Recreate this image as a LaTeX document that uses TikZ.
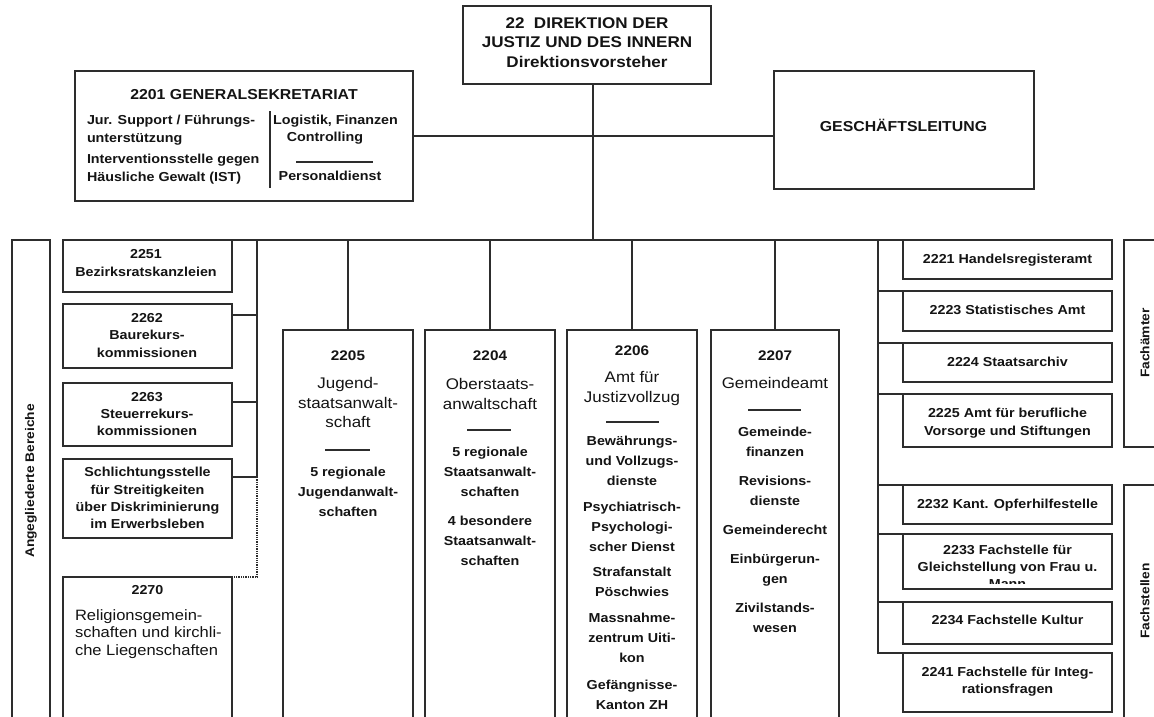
\documentclass[tikz,border=0pt]{standalone}
\usepackage{fontspec}
\setmainfont[FakeStretch=1.1]{Liberation Sans}
\definecolor{lc}{RGB}{45,45,45}
\definecolor{tc}{RGB}{20,20,20}
\newcommand\fsb[2]{\bfseries\fontsize{#1}{#2}\selectfont}
\newcommand\fsr[2]{\mdseries\fontsize{#1}{#2}\selectfont}
\tikzset{
  bx/.style={draw=lc, line width=1.8pt, inner sep=0pt, outer sep=0pt, anchor=north west},
  cn/.style={draw=lc, line width=1.6pt},
  dt/.style={draw=lc, line width=1.3pt, densely dotted},
  sp/.style={draw=lc, line width=1.2pt},
  tx/.style={inner sep=0pt, outer sep=0pt, align=center, anchor=north, text=tc},
  tb/.style={tx, font=\fsb{13}{17.5}},
  tl/.style={inner sep=0pt, outer sep=0pt, align=left, anchor=north west, text=tc},
  one/.style={inner sep=0pt, outer sep=0pt, anchor=base, text=tc, font=\fsb{13}{16}},
  rot/.style={inner sep=0pt, outer sep=0pt, rotate=90, text=tc, font=\fsb{12.5}{14}}
}
\begin{document}
\begin{tikzpicture}[x=1pt,y=-1pt]
\useasboundingbox (0,0) rectangle (1154,717);
\clip (0,0) rectangle (1154,717);
\fill[white] (0,0) rectangle (1154,717);

% ---------- boxes ----------
\node[bx, minimum width=248pt, minimum height=78pt] (top) at (463,6) {};
\node[bx, minimum width=338pt, minimum height=130pt] (gs) at (75,71) {};
\node[bx, minimum width=260pt, minimum height=118pt] (gl) at (774,71) {};
\node[bx, minimum width=38pt, minimum height=500pt] (ang) at (12,240) {};
\node[bx, minimum width=169pt, minimum height=52pt] (b2251) at (63,240) {};
\node[bx, minimum width=169pt, minimum height=64pt] (b2262) at (63,304) {};
\node[bx, minimum width=169pt, minimum height=63pt] (b2263) at (63,383) {};
\node[bx, minimum width=169pt, minimum height=79pt] (bschl) at (63,459) {};
\node[bx, minimum width=169pt, minimum height=160pt] (b2270) at (63,577) {};
\node[bx, minimum width=130pt, minimum height=410pt] (b2205) at (283,330) {};
\node[bx, minimum width=130pt, minimum height=410pt] (b2204) at (425,330) {};
\node[bx, minimum width=130pt, minimum height=410pt] (b2206) at (567,330) {};
\node[bx, minimum width=128pt, minimum height=410pt] (b2207) at (711,330) {};
\node[bx, minimum width=209pt, minimum height=39pt] (b2221) at (903,240) {};
\node[bx, minimum width=209pt, minimum height=40pt] (b2223) at (903,291) {};
\node[bx, minimum width=209pt, minimum height=39pt] (b2224) at (903,343) {};
\node[bx, minimum width=209pt, minimum height=53pt] (b2225) at (903,394) {};
\node[bx, minimum width=60pt, minimum height=207pt] (fa) at (1124,240) {};
\node[bx, minimum width=209pt, minimum height=39pt] (b2232) at (903,485) {};
\node[bx, minimum width=209pt, minimum height=55pt] (b2233) at (903,534) {};
\node[bx, minimum width=209pt, minimum height=42pt] (b2234) at (903,602) {};
\node[bx, minimum width=209pt, minimum height=59pt] (b2241) at (903,653) {};
\node[bx, minimum width=60pt, minimum height=300pt] (fst) at (1124,485) {};

% ---------- connectors ----------
\coordinate (barM) at (593,240);
\draw[cn] (top.south -| barM) -- (barM);
\draw[cn] (gs.east) -- (gs.east -| gl.west);
\draw[cn] (b2251.north west) -- (b2221.north east);
% left spine
\coordinate (lsTop) at (257,240);
\coordinate (lsEnd) at (257,477);
\coordinate (lsDot) at (257,577);
\coordinate (s2262) at (257,315);
\coordinate (s2263) at (257,402);
\draw[cn] (lsTop) -- (lsEnd) -- (lsEnd -| bschl.east);
\draw[cn] (s2262) -- (s2262 -| b2262.east);
\draw[cn] (s2263) -- (s2263 -| b2263.east);
\draw[dt] (lsEnd) -- (lsDot) -- (b2270.north east);
% middle
\draw[cn] (b2205.north |- barM) -- (b2205.north);
\draw[cn] (b2204.north |- barM) -- (b2204.north);
\draw[cn] (b2206.north |- barM) -- (b2206.north);
\draw[cn] (b2207.north |- barM) -- (b2207.north);
% right spine
\coordinate (rsTop) at (878,240);
\draw[cn] (rsTop) -- (rsTop |- b2241.north west) -- (b2241.north west);
\draw[cn] (rsTop |- b2223.north west) -- (b2223.north west);
\draw[cn] (rsTop |- b2224.north west) -- (b2224.north west);
\draw[cn] (rsTop |- b2225.north west) -- (b2225.north west);
\draw[cn] (rsTop |- b2232.north west) -- (b2232.north west);
\draw[cn] (rsTop |- b2233.north west) -- (b2233.north west);
\draw[cn] (rsTop |- b2234.north west) -- (b2234.north west);

% ---------- top ----------
\node[tx, font=\fsb{15.5}{19.5}] (toptxt) at (587,17.4) {22\ \ DIREKTION DER\\JUSTIZ UND DES INNERN\\Direktionsvorsteher};
\node[tx, font=\fsb{14.4}{17}] (gstitle) at (244,89.3) {2201 GENERALSEKRETARIAT};
\node[tl, font=\fsb{13}{17.5}] (gsleft) at (87,115.3) {Jur. Support / Führungs-\\unterstützung\\[4pt]Interventionsstelle gegen\\Häusliche Gewalt (IST)};
\node[tb] (gsr1) at (335.5,115.3) {Logistik, Finanzen};
\node[tb] (gsr2) at (325,132.3) {Controlling};
\node[tb] (gsr3) at (330,171.3) {Personaldienst};
\draw[sp] (270,111) -- (270,188);
\draw[sp] (296,162) -- (373,162);
\node[one, font=\fsb{14.4}{17}] (gltxt) at (903.5,131.2) {GESCHÄFTSLEITUNG};

% ---------- left ----------
\node[rot] (angtxt) at (31,481) {Angegliederte Bereiche};
\node[tb, font=\fsb{13}{18}] (t2251) at (146,249.3) {2251\\Bezirksratskanzleien};
\node[tb] (t2262) at (147,313.3) {2262\\Baurekurs-\\kommissionen};
\node[tb, font=\fsb{13}{17}] (t2263) at (147,392.3) {2263\\Steuerrekurs-\\kommissionen};
\node[tb, font=\fsb{13}{17.3}] (tschl) at (147.5,467.3) {Schlichtungsstelle\\für Streitigkeiten\\über Diskriminierung\\im Erwerbsleben};
\node[tb] (t2270) at (147.5,585.8) {2270};
\node[tl, font=\fsr{15}{17.3}] (t2270b) at (75,609.7) {Religionsgemein-\\schaften und kirchli-\\che Liegenschaften};

% ---------- middle ----------
\node[tx, font=\fsb{13.9}{17}] (n2205) at (348,351) {2205};
\node[tx, font=\fsr{15.4}{19.5}] (h2205) at (348,377.5) {Jugend-\\staatsanwalt-\\schaft};
\draw[sp] (325,450) -- (370,450);
\node[tb, font=\fsb{13}{20}] (l2205) at (348,467.3) {5 regionale\\Jugendanwalt-\\schaften};

\node[tx, font=\fsb{13.9}{17}] (n2204) at (490,351) {2204};
\node[tx, font=\fsr{15.4}{19.5}] (h2204) at (490,378.5) {Oberstaats-\\anwaltschaft};
\draw[sp] (467,430) -- (511,430);
\node[tb, font=\fsb{13}{20}] (l2204) at (490,447.3) {5 regionale\\Staatsanwalt-\\schaften\\[9pt]4 besondere\\Staatsanwalt-\\schaften};

\node[tx, font=\fsb{13.9}{17}] (n2206) at (632,345.5) {2206};
\node[tx, font=\fsr{15.4}{20.5}] (h2206) at (632,371) {Amt für\\Justizvollzug};
\draw[sp] (606,422) -- (659,422);
\node[tb, font=\fsb{13}{20}] (l2206) at (632,436.3) {Bewährungs-\\und Vollzugs-\\dienste\\[5.5pt]Psychiatrisch-\\Psychologi-\\scher Dienst\\[5.5pt]Strafanstalt\\Pöschwies\\[6pt]Massnahme-\\zentrum Uiti-\\kon\\[7pt]Gefängnisse-\\Kanton ZH};

\node[tx, font=\fsb{13.9}{17}] (n2207) at (775,351) {2207};
\node[tx, font=\fsr{15.4}{19.5}] (h2207) at (775,377.5) {Gemeindeamt};
\draw[sp] (748,410) -- (801,410);
\node[tb, font=\fsb{13}{20}] (l2207) at (775,427.3) {Gemeinde-\\finanzen\\[9pt]Revisions-\\dienste\\[9pt]Gemeinderecht\\[9pt]Einbürgerun-\\gen\\[8.5pt]Zivilstands-\\wesen};

% ---------- right ----------
\node[one] (t2221) at (1007.5,263.7) {2221 Handelsregisteramt};
\node[one] (t2223) at (1007.5,314.7) {2223 Statistisches Amt};
\node[one] (t2224) at (1007.5,366.7) {2224 Staatsarchiv};
\node[tb, font=\fsb{13}{18}] (t2225) at (1007.5,407.8) {2225 Amt für berufliche\\Vorsorge und Stiftungen};
\node[one] (t2232) at (1007.5,508.7) {2232 Kant. Opferhilfestelle};
\begin{scope}
\clip (903,534) rectangle (1112,583.5);
\node[tb, font=\fsb{13}{17}] (t2233) at (1007.5,544.8) {2233 Fachstelle für\\Gleichstellung von Frau u.\\Mann};
\end{scope}
\node[one] (t2234) at (1007.5,624.7) {2234 Fachstelle Kultur};
\node[tb, font=\fsb{13}{17}] (t2241) at (1007.5,667.3) {2241 Fachstelle für Integ-\\rationsfragen};
\node[rot] (fatxt) at (1145,343) {Fachämter};
\node[rot] (fsttxt) at (1145,601) {Fachstellen};
\end{tikzpicture}
\end{document}
